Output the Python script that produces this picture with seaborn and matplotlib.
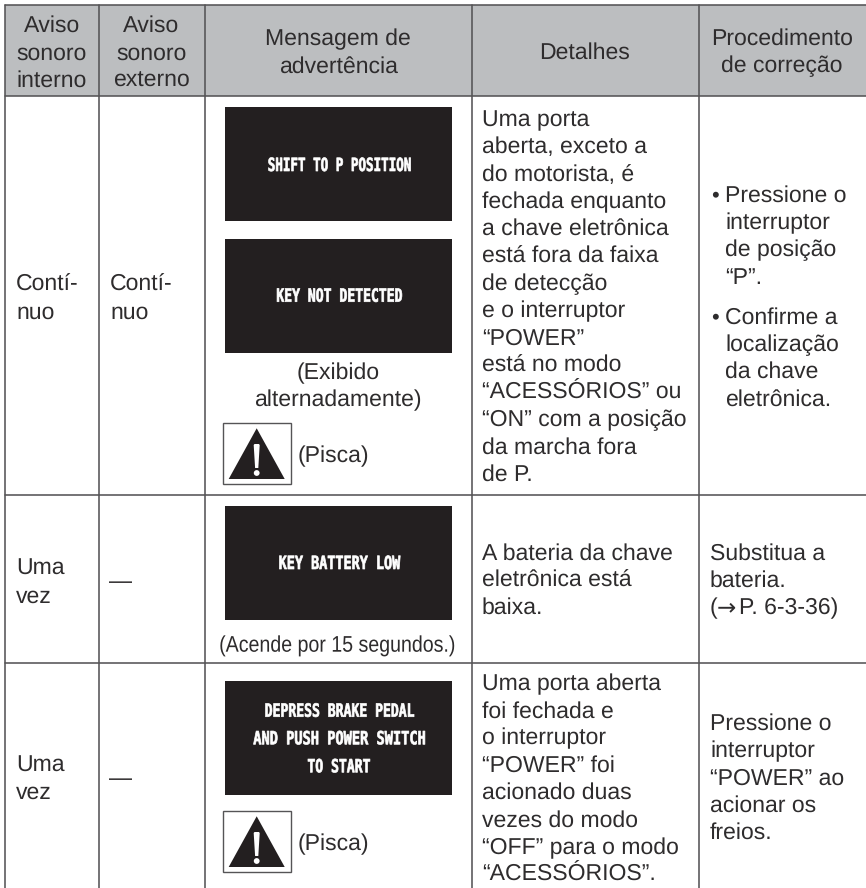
import matplotlib
matplotlib.use("Agg")
import matplotlib.pyplot as plt
import matplotlib.patheffects as pe
from matplotlib.patches import Rectangle, Polygon, Circle
from matplotlib.transforms import Affine2D
import pandas as pd
import seaborn as sns

# table text
headers = [
    ["Aviso", "sonoro", "interno"],
    ["Aviso", "sonoro", "externo"],
    ["Mensagem de", "advertência"],
    ["Detalhes"],
    ["Procedimento", "de correção"],
]
sound_row1 = ["Contí-", "nuo"]
sound_once = ["Uma", "vez"]
dash = "—"

screen_1 = ["SHIFT TO P POSITION"]
screen_2 = ["KEY NOT DETECTED"]
screen_3 = ["KEY BATTERY LOW"]
screen_4 = ["DEPRESS BRAKE PEDAL", "AND PUSH POWER SWITCH", "TO START"]

note_alt = ["(Exibido", "alternadamente)"]
note_blink = "(Pisca)"
note_15s = "(Acende por 15 segundos.)"

details_1 = ["Uma porta", "aberta, exceto a", "do motorista, é", "fechada enquanto",
             "a chave eletrônica", "está fora da faixa", "de detecção", "e o interruptor",
             "“POWER”", "está no modo", "“ACESSÓRIOS” ou", "“ON” com a posição",
             "da marcha fora", "de P."]
details_2 = ["A bateria da chave", "eletrônica está", "baixa."]
details_3 = ["Uma porta aberta", "foi fechada e", "o interruptor", "“POWER” foi",
             "acionado duas", "vezes do modo", "“OFF” para o modo", "“ACESSÓRIOS”."]

fix_1a = ["Pressione o", "interruptor", "de posição", "“P”."]
fix_1b = ["Confirme a", "localização", "da chave", "eletrônica."]
fix_2 = ["Substitua a", "bateria."]
fix_2_ref = ["(", "→", "P. 6-3-36)"]
fix_3 = ["Pressione o", "interruptor", "“POWER” ao", "acionar os", "freios."]

# layout, in pixels of the page
W, H = 866, 888
col_x = [5, 98.7, 204.5, 471.5, 698.5]
row_y = [4.7, 96.5, 495, 662.7]
col_mid = [52, 151.5, 338, 585, 782]
screen_x = 338.5
LINE = 27.3
TEXT_SIZE = 16.3
INK = "#2e2c2d"
DARK = "#231f20"

sns.set_theme(style="white")
plt.rcParams["font.family"] = ["Liberation Sans", "DejaVu Sans"]
plt.rcParams["text.hinting"] = "no_hinting"
plt.rcParams["text.hinting_factor"] = 1

fig = plt.figure(figsize=(W / 100, H / 100), dpi=100)
ax = fig.add_axes([0, 0, 1, 1])
ax.set_xlim(0, W)
ax.set_ylim(H, 0)
ax.axis("off")

ax.add_patch(Rectangle((col_x[0], row_y[0]), W - col_x[0], row_y[1] - row_y[0],
                       color="#bcbec0", lw=0, zorder=0))

# grid rules
rules = []
for i, x in enumerate(col_x):
    rules += [{"rule": f"v{i}", "x": x, "y": row_y[0]}, {"rule": f"v{i}", "x": x, "y": H}]
for i, y in enumerate(row_y):
    rules += [{"rule": f"h{i}", "x": col_x[0], "y": y}, {"rule": f"h{i}", "x": W, "y": y}]
rules = pd.DataFrame(rules)
sns.lineplot(data=rules, x="x", y="y", units="rule", estimator=None, sort=False,
             color="#555456", lw=1.15, ax=ax, zorder=2, legend=False)
ax.set_xlim(0, W)
ax.set_ylim(H, 0)
ax.axis("off")


def block(lines, x, y, ha="left", size=TEXT_SIZE):
    for i, line in enumerate(lines):
        ax.text(x, y + i * LINE, line, ha=ha, va="baseline", fontsize=size, color=INK)


class Squeeze(pe.AbstractPathEffect):
    # narrows the glyphs round their own centre, the screens use a tall pixel font
    def __init__(self, sx, edge=0):
        super().__init__()
        self.sx = sx
        self.edge = edge

    def draw_path(self, renderer, gc, tpath, affine, rgbFace=None):
        box = tpath.get_extents()
        cx = (box.x0 + box.x1) / 2
        shrink = Affine2D().translate(-cx, 0).scale(self.sx, 1).translate(cx, 0)
        if self.edge:
            gc0 = renderer.new_gc()
            gc0.copy_properties(gc)
            gc0.set_linewidth(self.edge)
            gc0.set_foreground(rgbFace)
            renderer.draw_path(gc0, tpath, shrink + affine, rgbFace)
            gc0.restore()
        else:
            renderer.draw_path(gc, tpath, shrink + affine, rgbFace)


def screen(lines, top, baselines, stretch):
    ax.add_patch(Rectangle((225, top), 227, 114, color=DARK, lw=0, zorder=1))
    for line, y, sx in zip(lines, baselines, stretch):
        ax.text(screen_x, y, line, ha="center", va="baseline", fontsize=13.1, color="white",
                family="DejaVu Sans Mono", weight="bold", zorder=3,
                path_effects=[Squeeze(sx, edge=0.5)])


def warning_icon(top):
    ax.add_patch(Rectangle((223, top), 67.5, 61, fc="white", ec="#555456", lw=1, zorder=1))
    cx = 256.7
    ax.add_patch(Polygon([(cx, top + 5.3), (cx + 28, top + 56), (cx - 28, top + 56)],
                         color=DARK, lw=0, zorder=2))
    ax.add_patch(Polygon([(cx - 3, top + 22), (cx - 2.2, top + 21), (cx + 2.2, top + 21),
                          (cx + 3, top + 22), (cx + 1.6, top + 45), (cx - 1.6, top + 45)],
                         color="white", lw=0, zorder=3))
    ax.add_patch(Circle((cx, top + 50), 2.9, color="white", lw=0, zorder=3))


# header row
for lines, mid in zip(headers, col_mid):
    first = {3: 32, 2: 45, 1: 59}[len(lines)]
    block(lines, mid, first, ha="center")

# sound columns
block(sound_row1, 16, 291)
block(sound_row1, 110, 291)
block(sound_once, 16, 575)
block(sound_once, 16, 771.7)
block([dash], 109, 588)
block([dash], 109, 785)

# message column
screen(screen_1, 107, [171], [0.69])
screen(screen_2, 239, [301.7], [0.72])
screen(screen_3, 506, [569], [0.74])
screen(screen_4, 681, [716.7, 744.3, 772.3], [0.72, 0.75, 0.72])

block(note_alt, 338, 379.3, ha="center")
ax.text(339.5, 651.7, note_15s, ha="center", va="baseline", fontsize=TEXT_SIZE, color=INK,
        path_effects=[Squeeze(0.865)])
warning_icon(423)
warning_icon(811)
block([note_blink], 297.7, 462.7)
block([note_blink], 297.7, 850.7)

# details column
block(details_1, 482, 126)
block(details_2, 482, 559.3)
block(details_3, 482, 690)

# correction column
ax.text(715, 201.7, "•", ha="center", va="baseline", fontsize=16, color=INK)
block(fix_1a, 725, 201.7)
ax.text(715, 323.5, "•", ha="center", va="baseline", fontsize=16, color=INK)
block(fix_1b, 725, 323.5)
block(fix_2, 710, 559.3)
block([fix_2_ref[0]], 710, 559.3 + 2 * LINE)
ax.text(717, 559.3 + 2 * LINE, fix_2_ref[1], ha="left", va="baseline", fontsize=TEXT_SIZE,
        color=INK, family="DejaVu Sans")
block([fix_2_ref[2]], 739, 559.3 + 2 * LINE)
block(fix_3, 710, 730)

fig.savefig("out.png", dpi=100)
